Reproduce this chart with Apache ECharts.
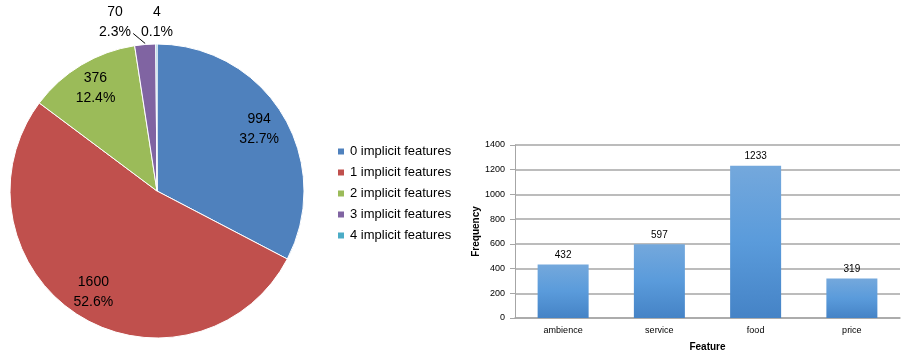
<!DOCTYPE html>
<html><head><meta charset="utf-8">
<script src="https://cdn.jsdelivr.net/npm/echarts@6/dist/echarts.min.js"></script>
<style>html,body{margin:0;padding:0;background:#fff}#c{width:902px;height:353px}</style>
</head><body><div id="c"></div>
<script>
var pieNames = ['0 implicit features','1 implicit features','2 implicit features','3 implicit features','4 implicit features'];
var pieValues = [994, 1600, 376, 70, 4];
var pieColors = ['#4F81BD','#C0504D','#9BBB59','#8064A2','#4BACC6'];
var barCategories = ['ambience','service','food','price'];
var barValues = [432, 597, 1233, 319];
var yTicks = [0, 200, 400, 600, 800, 1000, 1200, 1400];

var pieTotal = pieValues.reduce(function(a,b){return a+b;},0);
var PIE_C = [157,191], PIE_R = 147;
function sliceEdgePoint(idx){
  var before = 0;
  for (var k=0;k<idx;k++) before += pieValues[k];
  var mid = (before + pieValues[idx]/2)/pieTotal;
  var ang = Math.PI/2 - mid*2*Math.PI;
  return [PIE_C[0] + PIE_R*Math.cos(ang), PIE_C[1] - PIE_R*Math.sin(ang)];
}
var chart = echarts.init(document.getElementById('c'));
var pieData = pieNames.map(function(n,i){return {name:n, value:pieValues[i], itemStyle:{color:pieColors[i]}};});
var labelData = pieNames.map(function(n,i){
  var d = {name:n, value:pieValues[i], itemStyle:{color:'rgba(0,0,0,0)'}};
  if (i >= 3) {
    d.label = {position:'outside'};
    d.labelLine = {show: i===3, length: 10, length2: 2, lineStyle:{color:'#000', width:1}};
  } else {
    d.label = {position:'inside'};
    d.labelLine = {show:false};
  }
  return d;
});
var font = 'Liberation Sans, Arial, sans-serif';
chart.setOption({
  animation:false,
  textStyle:{fontFamily:font},
  legend:{
    orient:'vertical', left:331, top:140, itemWidth:8, itemHeight:8, itemGap:8,
    icon:'rect', data:pieNames,
    textStyle:{fontSize:13, color:'#000', fontFamily:font}
  },
  grid:{left:515, right:2, top:145, bottom:32},
  xAxis:{
    type:'category', data:barCategories,
    name:'Feature', nameLocation:'middle', nameGap:24,
    nameTextStyle:{fontSize:10, fontWeight:'bold', color:'#000'},
    axisLine:{lineStyle:{color:'#A6A6A6', width:1.5}},
    axisTick:{show:false},
    axisLabel:{fontSize:9, color:'#000', margin:8}
  },
  yAxis:{
    type:'value', min:yTicks[0], max:yTicks[yTicks.length-1], interval:yTicks[1]-yTicks[0],
    name:'Frequency', nameLocation:'middle', nameGap:32, nameRotate:90,
    nameTextStyle:{fontSize:10, fontWeight:'bold', color:'#000'},
    axisLine:{show:true, lineStyle:{color:'#A6A6A6', width:1}},
    axisTick:{show:true, length:5, lineStyle:{color:'#A6A6A6'}},
    splitLine:{lineStyle:{color:'#A6A6A6', width:1.5}},
    axisLabel:{fontSize:9, color:'#000', margin:10, formatter:function(v){return String(v);}}
  },
  series:[
    {
      type:'pie', center:PIE_C, radius:PIE_R, startAngle:90, clockwise:true,
      data:pieData, label:{show:false}, labelLine:{show:false},
      itemStyle:{borderColor:'#fff', borderWidth:1}, silent:true
    },
    {
      type:'pie', center:PIE_C, radius:[86,PIE_R], startAngle:90, clockwise:true,
      data:labelData, silent:true, legendHoverLink:false,
      label:{show:true, fontSize:14, lineHeight:20, color:'#000', fontFamily:font,
        formatter:function(p){return p.value + '\n' + (p.value/pieTotal*100).toFixed(1) + '%';}},
      labelLayout:function(p){
        if (p.dataIndex === 3) {
          var s = sliceEdgePoint(3);
          return {x:115, y:22, align:'center', verticalAlign:'middle',
            labelLinePoints:[[s[0], s[1]-1], [s[0]-6, s[1]-6], [s[0]-12, s[1]-11]]};
        }
        if (p.dataIndex === 4) return {x:157, y:22, align:'center', verticalAlign:'middle'};
        return {};
      },
      emphasis:{disabled:true}
    },
    {
      type:'bar', data:barValues, barWidth:51, silent:true,
      itemStyle:{color:new echarts.graphic.LinearGradient(0,0,0,1,[{offset:0,color:'#74A8DC'},{offset:0.5,color:'#5A9BDB'},{offset:1,color:'#4583C6'}])},
      label:{show:true, position:'top', distance:4, fontSize:10, color:'#000'}
    }
  ]
});
</script></body></html>
